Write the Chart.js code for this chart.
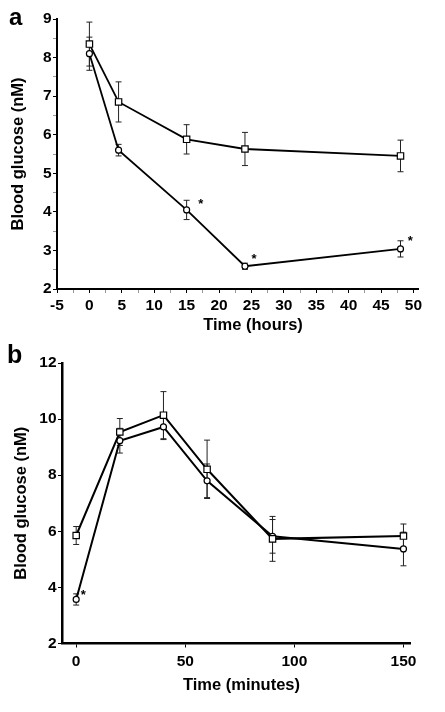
<!DOCTYPE html>
<html>
<head>
<meta charset="utf-8">
<script src="https://cdn.jsdelivr.net/npm/chart.js@4.4.1/dist/chart.umd.min.js"></script>
<style>
html,body{margin:0;padding:0;background:#fff;width:445px;height:712px;overflow:hidden;font-family:'Liberation Sans',Arial,sans-serif}
.box{position:absolute;left:0;width:445px}
#boxA{top:0;height:350px}
#boxB{top:350px;height:362px}
.lbl{position:absolute;font-weight:bold;line-height:1;color:#000;font-family:'Liberation Sans',Arial,sans-serif}
</style>
</head>
<body>
<div id="boxA" class="box"><canvas id="cA"></canvas></div>
<div id="boxB" class="box"><canvas id="cB"></canvas></div>
<div class="lbl" style="left:9px;top:5px;font-size:24px">a</div>
<div class="lbl" style="left:7px;top:342px;font-size:25px">b</div>
<script>
// ---------- Panel a data ----------
const hoursA = [0, 4.5, 15, 24, 48];
const controlA = [8.35, 6.85, 5.88, 5.63, 5.45];
const controlErrA = [0.57, 0.52, 0.38, 0.43, 0.41];
const treatedA = [8.1, 5.6, 4.05, 2.59, 3.04];
const treatedErrA = [0.43, 0.15, 0.25, 0.08, 0.21];
const starsA = [[17.2, 4.28], [25.4, 2.87], [49.5, 3.33]];
const xTicksA = [-5, 0, 5, 10, 15, 20, 25, 30, 35, 40, 45, 50];
const xMinorA = [-2.5, 2.5, 7.5, 12.5, 17.5, 22.5, 27.5, 32.5, 37.5, 42.5, 47.5];
const yTicksA = [2, 3, 4, 5, 6, 7, 8, 9];
const yMinorA = [2.5, 3.5, 4.5, 5.5, 6.5, 7.5, 8.5];

// ---------- Panel b data ----------
const minutesB = [0, 20, 40, 60, 90, 150];
const controlB = [5.85, 9.54, 10.14, 8.21, 5.73, 5.83];
const controlErrB = [0.32, 0.48, 0.84, 1.04, 0.8, 0.43];
const treatedB = [3.57, 9.23, 9.72, 7.8, 5.82, 5.37];
const treatedErrB = [0.2, 0.44, 0.45, 0.6, 0.6, 0.6];
const starsB = [[3.3, 3.84]];
const xTicksB = [0, 50, 100, 150];
const yTicksB = [2, 4, 6, 8, 10, 12];

const FONT = "'Liberation Sans', Arial, sans-serif";
Chart.defaults.font.family = FONT;
Chart.defaults.font.weight = 'bold';
Chart.defaults.color = '#000';
Chart.defaults.animation = false;

function pts(xs, ys) { return xs.map((x, i) => ({x: x, y: ys[i]})); }

const errorBars = {
  id: 'errorBars',
  beforeDatasetsDraw(chart) {
    const {ctx, scales: {x, y}} = chart;
    ctx.save();
    ctx.strokeStyle = '#222';
    ctx.lineWidth = 1;
    chart.data.datasets.forEach(ds => {
      if (!ds.errors) return;
      ds.data.forEach((p, i) => {
        const e = ds.errors[i];
        const px = x.getPixelForValue(p.x);
        const t = y.getPixelForValue(p.y + e);
        const b = y.getPixelForValue(p.y - e);
        ctx.beginPath();
        ctx.moveTo(px, t); ctx.lineTo(px, b);
        ctx.moveTo(px - 3, t); ctx.lineTo(px + 3, t);
        ctx.moveTo(px - 3, b); ctx.lineTo(px + 3, b);
        ctx.stroke();
      });
    });
    ctx.restore();
  }
};

const stars = {
  id: 'stars',
  afterDatasetsDraw(chart, args, opts) {
    const {ctx, scales: {x, y}} = chart;
    ctx.save();
    ctx.fillStyle = '#000';
    ctx.font = 'bold 13px ' + FONT;
    ctx.textAlign = 'center';
    ctx.textBaseline = 'alphabetic';
    (opts.points || []).forEach(p => {
      ctx.fillText('*', x.getPixelForValue(p[0]), y.getPixelForValue(p[1]) + 7.4);
    });
    ctx.restore();
  }
};

const xTitle = {
  id: 'xTitle',
  afterDraw(chart, args, opts) {
    const {ctx, chartArea} = chart;
    ctx.save();
    ctx.fillStyle = '#000';
    ctx.font = 'bold 16.5px ' + FONT;
    ctx.textAlign = 'center';
    ctx.textBaseline = 'middle';
    ctx.fillText(opts.text, (chartArea.left + chartArea.right) / 2 + opts.dx, chartArea.bottom + opts.dy);
    ctx.restore();
  }
};

function tickSet(major, minor) {
  const m = major.map(v => ({value: v, major: true}));
  const n = (minor || []).map(v => ({value: v, minorTick: true}));
  return m.concat(n).sort((a, b) => a.value - b.value);
}

function makeChart(id, cfg) {
  const lw = cfg.lineWidth;
  const majorX = new Set(cfg.xTicks), majorY = new Set(cfg.yTicks);
  return new Chart(document.getElementById(id), {
    type: 'scatter',
    data: {
      datasets: [
        {
          label: 'control',
          data: pts(cfg.xs, cfg.control),
          errors: cfg.controlErr,
          showLine: true,
          borderColor: '#000',
          borderWidth: lw,
          pointStyle: 'rect',
          pointRadius: 4.5,
          pointBackgroundColor: '#fff',
          pointBorderColor: '#000',
          pointBorderWidth: 1.2
        },
        {
          label: 'treated',
          data: pts(cfg.xs, cfg.treated),
          errors: cfg.treatedErr,
          showLine: true,
          borderColor: '#000',
          borderWidth: lw,
          pointStyle: 'circle',
          pointRadius: 3,
          pointBackgroundColor: '#fff',
          pointBorderColor: '#000',
          pointBorderWidth: 1.2
        }
      ]
    },
    options: {
      responsive: true,
      maintainAspectRatio: false,
      devicePixelRatio: 1,
      layout: {padding: cfg.padding},
      plugins: {
        legend: {display: false},
        tooltip: {enabled: false},
        stars: {points: cfg.stars},
        xTitle: {text: cfg.xTitle, dx: cfg.xTitleDx, dy: cfg.xTitleDy}
      },
      scales: {
        x: {
          type: 'linear',
          min: cfg.xMin, max: cfg.xMax,
          afterBuildTicks: s => { s.ticks = tickSet(cfg.xTicks, cfg.xMinor); },
          afterFit: s => { s.height = cfg.xHeight; },
          border: {display: true, color: '#000', width: cfg.axisWidth},
          grid: {drawOnChartArea: false, drawTicks: true, tickLength: 4, lineWidth: 1,
                 tickColor: c => (c.tick && majorX.has(c.tick.value)) ? '#000' : '#999'},
          ticks: {font: {size: 15.5, weight: 'bold'}, color: '#000', padding: cfg.xTickPad, maxRotation: 0, autoSkip: false,
                  callback: v => majorX.has(v) ? String(v) : ''},
          title: {display: false}
        },
        y: {
          type: 'linear',
          min: cfg.yMin, max: cfg.yMax,
          afterBuildTicks: s => { s.ticks = tickSet(cfg.yTicks, cfg.yMinor); },
          afterFit: s => { s.width = cfg.yWidth; },
          border: {display: true, color: '#000', width: cfg.axisWidth},
          grid: {drawOnChartArea: false, drawTicks: true, tickLength: 4, lineWidth: 1,
                 tickColor: c => (c.tick && majorY.has(c.tick.value)) ? '#000' : '#999'},
          ticks: {font: {size: 15.5, weight: 'bold'}, color: '#000', padding: 1.5, autoSkip: false,
                  callback: v => majorY.has(v) ? String(v) : ''},
          title: {display: true, text: 'Blood glucose (nM)', color: '#000', font: {size: 16.5, weight: 'bold'}, padding: {top: cfg.yTitlePad, bottom: 0}}
        }
      }
    },
    plugins: [errorBars, stars, xTitle]
  });
}

makeChart('cA', {
  xs: hoursA, control: controlA, controlErr: controlErrA, treated: treatedA, treatedErr: treatedErrA,
  stars: starsA, xTicks: xTicksA, xMinor: xMinorA, yTicks: yTicksA, yMinor: yMinorA,
  xMin: -5, xMax: 50.7, yMin: 2, yMax: 9,
  padding: {top: 19, right: 27, bottom: 0, left: 0},
  xHeight: 61, yWidth: 57, xTickPad: 3, yTitlePad: 9,
  axisWidth: 2, lineWidth: 1.8,
  xTitle: 'Time (hours)', xTitleDx: 15.5, xTitleDy: 36
});

makeChart('cB', {
  xs: minutesB, control: controlB, controlErr: controlErrB, treated: treatedB, treatedErr: treatedErrB,
  stars: starsB, xTicks: xTicksB, xMinor: [], yTicks: yTicksB, yMinor: [],
  xMin: -6.5, xMax: 153, yMin: 2, yMax: 12,
  padding: {top: 13, right: 35, bottom: 0, left: 0},
  xHeight: 68.5, yWidth: 62, xTickPad: 5, yTitlePad: 11.6,
  axisWidth: 2.5, lineWidth: 2,
  xTitle: 'Time (minutes)', xTitleDx: 5.5, xTitleDy: 41.5
});
</script>
</body>
</html>
